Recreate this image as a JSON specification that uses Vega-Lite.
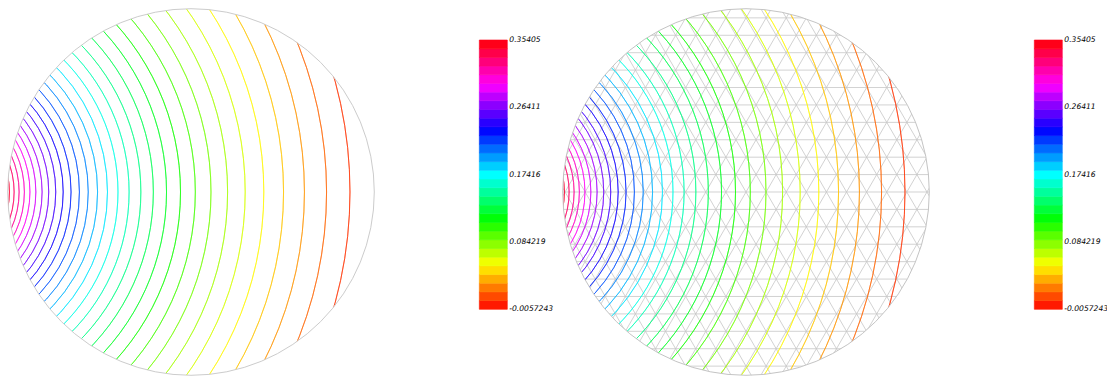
{
  "$schema": "https://vega.github.io/schema/vega-lite/v6.json",
  "padding": 0,
  "spacing": 1,
  "background": "white",
  "config": {"view": {"stroke": null}},
  "datasets": {
    "iso": [
      {"r": 2.2913, "v": 0.00588}, {"r": 2.1635, "v": 0.01749}, {"r": 2.0428, "v": 0.02909},
      {"r": 1.9288, "v": 0.04070}, {"r": 1.8212, "v": 0.05230}, {"r": 1.7196, "v": 0.06391},
      {"r": 1.6236, "v": 0.07552}, {"r": 1.5330, "v": 0.08712}, {"r": 1.4475, "v": 0.09873},
      {"r": 1.3667, "v": 0.11033}, {"r": 1.2904, "v": 0.12194}, {"r": 1.2184, "v": 0.13354},
      {"r": 1.1504, "v": 0.14515}, {"r": 1.0862, "v": 0.15675}, {"r": 1.0256, "v": 0.16836},
      {"r": 0.96834, "v": 0.17997}, {"r": 0.91430, "v": 0.19157}, {"r": 0.86328, "v": 0.20318},
      {"r": 0.81510, "v": 0.21478}, {"r": 0.76962, "v": 0.22639}, {"r": 0.72667, "v": 0.23799},
      {"r": 0.68612, "v": 0.24960}, {"r": 0.64783, "v": 0.26121}, {"r": 0.61168, "v": 0.27281},
      {"r": 0.57755, "v": 0.28442}, {"r": 0.54532, "v": 0.29602}, {"r": 0.51489, "v": 0.30763},
      {"r": 0.48616, "v": 0.31923}, {"r": 0.45903, "v": 0.33084}, {"r": 0.43341, "v": 0.34244}
    ],
    "bands": [
      {"lo": -0.0057243, "hi": 0.0058813, "v": 0.0000785},
      {"lo": 0.0058813, "hi": 0.0174869, "v": 0.0116841},
      {"lo": 0.0174869, "hi": 0.0290926, "v": 0.0232897},
      {"lo": 0.0290926, "hi": 0.0406982, "v": 0.0348954},
      {"lo": 0.0406982, "hi": 0.0523038, "v": 0.0465010},
      {"lo": 0.0523038, "hi": 0.0639094, "v": 0.0581066},
      {"lo": 0.0639094, "hi": 0.0755150, "v": 0.0697122},
      {"lo": 0.0755150, "hi": 0.0871207, "v": 0.0813178},
      {"lo": 0.0871207, "hi": 0.0987263, "v": 0.0929235},
      {"lo": 0.0987263, "hi": 0.1103319, "v": 0.1045291},
      {"lo": 0.1103319, "hi": 0.1219375, "v": 0.1161347},
      {"lo": 0.1219375, "hi": 0.1335431, "v": 0.1277403},
      {"lo": 0.1335431, "hi": 0.1451488, "v": 0.1393459},
      {"lo": 0.1451488, "hi": 0.1567544, "v": 0.1509516},
      {"lo": 0.1567544, "hi": 0.1683600, "v": 0.1625572},
      {"lo": 0.1683600, "hi": 0.1799656, "v": 0.1741628},
      {"lo": 0.1799656, "hi": 0.1915712, "v": 0.1857684},
      {"lo": 0.1915712, "hi": 0.2031769, "v": 0.1973740},
      {"lo": 0.2031769, "hi": 0.2147825, "v": 0.2089797},
      {"lo": 0.2147825, "hi": 0.2263881, "v": 0.2205853},
      {"lo": 0.2263881, "hi": 0.2379937, "v": 0.2321909},
      {"lo": 0.2379937, "hi": 0.2495993, "v": 0.2437965},
      {"lo": 0.2495993, "hi": 0.2612050, "v": 0.2554021},
      {"lo": 0.2612050, "hi": 0.2728106, "v": 0.2670078},
      {"lo": 0.2728106, "hi": 0.2844162, "v": 0.2786134},
      {"lo": 0.2844162, "hi": 0.2960218, "v": 0.2902190},
      {"lo": 0.2960218, "hi": 0.3076274, "v": 0.3018246},
      {"lo": 0.3076274, "hi": 0.3192331, "v": 0.3134302},
      {"lo": 0.3192331, "hi": 0.3308387, "v": 0.3250359},
      {"lo": 0.3308387, "hi": 0.3424443, "v": 0.3366415},
      {"lo": 0.3424443, "hi": 0.35405, "v": 0.3482471}
    ],
    "labels": [
      {"label": "0.35405", "v": 0.35405},
      {"label": "0.26411", "v": 0.26411},
      {"label": "0.17416", "v": 0.17416},
      {"label": "0.084219", "v": 0.084219},
      {"label": "-0.0057243", "v": -0.0057243}
    ],
    "mesh": [
      {"x": -1.1, "y": -0.95, "x2": 1.1, "y2": -0.95},
      {"x": -1.1, "y": -0.855, "x2": 1.1, "y2": -0.855},
      {"x": -1.1, "y": -0.76, "x2": 1.1, "y2": -0.76},
      {"x": -1.1, "y": -0.665, "x2": 1.1, "y2": -0.665},
      {"x": -1.1, "y": -0.57, "x2": 1.1, "y2": -0.57},
      {"x": -1.1, "y": -0.475, "x2": 1.1, "y2": -0.475},
      {"x": -1.1, "y": -0.38, "x2": 1.1, "y2": -0.38},
      {"x": -1.1, "y": -0.285, "x2": 1.1, "y2": -0.285},
      {"x": -1.1, "y": -0.19, "x2": 1.1, "y2": -0.19},
      {"x": -1.1, "y": -0.095, "x2": 1.1, "y2": -0.095},
      {"x": -1.1, "y": 0, "x2": 1.1, "y2": 0},
      {"x": -1.1, "y": 0.095, "x2": 1.1, "y2": 0.095},
      {"x": -1.1, "y": 0.19, "x2": 1.1, "y2": 0.19},
      {"x": -1.1, "y": 0.285, "x2": 1.1, "y2": 0.285},
      {"x": -1.1, "y": 0.38, "x2": 1.1, "y2": 0.38},
      {"x": -1.1, "y": 0.475, "x2": 1.1, "y2": 0.475},
      {"x": -1.1, "y": 0.57, "x2": 1.1, "y2": 0.57},
      {"x": -1.1, "y": 0.665, "x2": 1.1, "y2": 0.665},
      {"x": -1.1, "y": 0.76, "x2": 1.1, "y2": 0.76},
      {"x": -1.1, "y": 0.855, "x2": 1.1, "y2": 0.855},
      {"x": -1.1, "y": 0.95, "x2": 1.1, "y2": 0.95},
      {"x": 0.27273, "y": -1.42763, "x2": 1.37273, "y2": 0.47763},
      {"x": 0.19046, "y": -1.38013, "x2": 1.29046, "y2": 0.52513},
      {"x": 0.10818, "y": -1.33263, "x2": 1.20818, "y2": 0.57263},
      {"x": 0.02591, "y": -1.28513, "x2": 1.12591, "y2": 0.62013},
      {"x": -0.05636, "y": -1.23763, "x2": 1.04364, "y2": 0.66763},
      {"x": -0.13864, "y": -1.19013, "x2": 0.96136, "y2": 0.71513},
      {"x": -0.22091, "y": -1.14263, "x2": 0.87909, "y2": 0.76263},
      {"x": -0.30318, "y": -1.09513, "x2": 0.79682, "y2": 0.81013},
      {"x": -0.38545, "y": -1.04763, "x2": 0.71455, "y2": 0.85763},
      {"x": -0.46773, "y": -1.00013, "x2": 0.63227, "y2": 0.90513},
      {"x": -0.55, "y": -0.95263, "x2": 0.55, "y2": 0.95263},
      {"x": -0.63227, "y": -0.90513, "x2": 0.46773, "y2": 1.00013},
      {"x": -0.71455, "y": -0.85763, "x2": 0.38545, "y2": 1.04763},
      {"x": -0.79682, "y": -0.81013, "x2": 0.30318, "y2": 1.09513},
      {"x": -0.87909, "y": -0.76263, "x2": 0.22091, "y2": 1.14263},
      {"x": -0.96136, "y": -0.71513, "x2": 0.13864, "y2": 1.19013},
      {"x": -1.04364, "y": -0.66763, "x2": 0.05636, "y2": 1.23763},
      {"x": -1.12591, "y": -0.62013, "x2": -0.02591, "y2": 1.28513},
      {"x": -1.20818, "y": -0.57263, "x2": -0.10818, "y2": 1.33263},
      {"x": -1.29046, "y": -0.52513, "x2": -0.19046, "y2": 1.38013},
      {"x": -1.37273, "y": -0.47763, "x2": -0.27273, "y2": 1.42763},
      {"x": -0.27273, "y": -1.42763, "x2": -1.37273, "y2": 0.47763},
      {"x": -0.19046, "y": -1.38013, "x2": -1.29046, "y2": 0.52513},
      {"x": -0.10818, "y": -1.33263, "x2": -1.20818, "y2": 0.57263},
      {"x": -0.02591, "y": -1.28513, "x2": -1.12591, "y2": 0.62013},
      {"x": 0.05636, "y": -1.23763, "x2": -1.04364, "y2": 0.66763},
      {"x": 0.13864, "y": -1.19013, "x2": -0.96136, "y2": 0.71513},
      {"x": 0.22091, "y": -1.14263, "x2": -0.87909, "y2": 0.76263},
      {"x": 0.30318, "y": -1.09513, "x2": -0.79682, "y2": 0.81013},
      {"x": 0.38545, "y": -1.04763, "x2": -0.71455, "y2": 0.85763},
      {"x": 0.46773, "y": -1.00013, "x2": -0.63227, "y2": 0.90513},
      {"x": 0.55, "y": -0.95263, "x2": -0.55, "y2": 0.95263},
      {"x": 0.63227, "y": -0.90513, "x2": -0.46773, "y2": 1.00013},
      {"x": 0.71455, "y": -0.85763, "x2": -0.38545, "y2": 1.04763},
      {"x": 0.79682, "y": -0.81013, "x2": -0.30318, "y2": 1.09513},
      {"x": 0.87909, "y": -0.76263, "x2": -0.22091, "y2": 1.14263},
      {"x": 0.96136, "y": -0.71513, "x2": -0.13864, "y2": 1.19013},
      {"x": 1.04364, "y": -0.66763, "x2": -0.05636, "y2": 1.23763},
      {"x": 1.12591, "y": -0.62013, "x2": 0.02591, "y2": 1.28513},
      {"x": 1.20818, "y": -0.57263, "x2": 0.10818, "y2": 1.33263},
      {"x": 1.29046, "y": -0.52513, "x2": 0.19046, "y2": 1.38013},
      {"x": 1.37273, "y": -0.47763, "x2": 0.27273, "y2": 1.42763}
    ]
  },
  "hconcat": [
    {
      "width": 553,
      "height": 376,
      "resolve": {"scale": {"y": "independent"}},
      "layer": [
        {
          "data": {"name": "iso"},
          "mark": {"type": "arc", "filled": false, "strokeWidth": 0.75, "strokeOpacity": 0.85, "theta": 0.7208, "theta2": 2.4208, "clip": true},
          "encoding": {
            "x": {"datum": -1.4239, "type": "quantitative", "scale": {"domain": [-1.04201, 1.9749], "nice": false, "zero": false}, "axis": null},
            "y": {"datum": 0, "type": "quantitative", "scale": {"domain": [-1.00382, 1.04746], "nice": false, "zero": false}, "axis": null},
            "radius": {"field": "r", "type": "quantitative", "scale": {"type": "linear", "domain": [0, 1], "range": [0, 183.3], "nice": false, "zero": true}},
            "radius2": {"field": "r"},
            "color": {"field": "v", "type": "quantitative", "legend": null, "scale": {"domain": [-0.0057243, 0.0542381, 0.1142005, 0.1741629, 0.2341253, 0.2940877, 0.35405], "range": ["#ff0000", "#ffff00", "#00ff00", "#00ffff", "#0000ff", "#ff00ff", "#ff0000"], "interpolate": "rgb"}}
          }
        },
        {
          "data": {"values": [{}]},
          "mark": {"type": "arc", "fill": "white", "stroke": "#cccccc", "strokeWidth": 1, "theta": 0, "theta2": 6.2832, "clip": true},
          "encoding": {
            "x": {"datum": 0, "type": "quantitative", "scale": {"domain": [-1.04201, 1.9749], "nice": false, "zero": false}, "axis": null},
            "y": {"datum": 0, "type": "quantitative", "scale": {"domain": [-1.00382, 1.04746], "nice": false, "zero": false}, "axis": null},
            "radius": {"datum": 1, "type": "quantitative", "scale": {"type": "linear", "domain": [0, 1], "range": [0, 183.3], "nice": false, "zero": true}},
            "radius2": {"datum": 2.7}
          }
        },
        {
          "data": {"name": "bands"},
          "mark": {"type": "rect", "strokeWidth": 0.6},
          "encoding": {
            "x": {"datum": 1.5729, "type": "quantitative", "scale": {"domain": [-1.04201, 1.9749], "nice": false, "zero": false}, "axis": null},
            "x2": {"datum": 1.7256},
            "y": {"field": "lo", "type": "quantitative", "scale": {"domain": [-0.09483, 0.40749], "nice": false, "zero": false}, "axis": null},
            "y2": {"field": "hi"},
            "color": {"field": "v", "type": "quantitative", "legend": null, "scale": {"domain": [-0.0057243, 0.0542381, 0.1142005, 0.1741629, 0.2341253, 0.2940877, 0.35405], "range": ["#ff0000", "#ffff00", "#00ff00", "#00ffff", "#0000ff", "#ff00ff", "#ff0000"], "interpolate": "rgb"}},
            "stroke": {"field": "v", "type": "quantitative", "legend": null, "scale": {"domain": [-0.0057243, 0.0542381, 0.1142005, 0.1741629, 0.2341253, 0.2940877, 0.35405], "range": ["#ff0000", "#ffff00", "#00ff00", "#00ffff", "#0000ff", "#ff00ff", "#ff0000"], "interpolate": "rgb"}}
          }
        },
        {
          "data": {"name": "labels"},
          "mark": {"type": "text", "align": "left", "baseline": "middle", "font": "DejaVu Sans", "fontSize": 7.6, "fontStyle": "italic", "color": "black"},
          "encoding": {
            "x": {"datum": 1.7365, "type": "quantitative", "scale": {"domain": [-1.04201, 1.9749], "nice": false, "zero": false}, "axis": null},
            "y": {"field": "v", "type": "quantitative", "scale": {"domain": [-0.09483, 0.40749], "nice": false, "zero": false}, "axis": null},
            "text": {"field": "label"}
          }
        }
      ]
    },
    {
      "width": 553,
      "height": 376,
      "resolve": {"scale": {"y": "independent"}},
      "layer": [
        {
          "data": {"name": "mesh"},
          "mark": {"type": "rule", "stroke": "#c6c6c6", "strokeWidth": 0.8, "clip": true},
          "encoding": {
            "x": {"field": "x", "type": "quantitative", "scale": {"domain": [-1.04201, 1.9749], "nice": false, "zero": false}, "axis": null},
            "y": {"field": "y", "type": "quantitative", "scale": {"domain": [-1.00382, 1.04746], "nice": false, "zero": false}, "axis": null},
            "x2": {"field": "x2"},
            "y2": {"field": "y2"}
          }
        },
        {
          "data": {"name": "iso"},
          "mark": {"type": "arc", "filled": false, "strokeWidth": 0.75, "strokeOpacity": 0.85, "theta": 0.7208, "theta2": 2.4208, "clip": true},
          "encoding": {
            "x": {"datum": -1.4239, "type": "quantitative", "scale": {"domain": [-1.04201, 1.9749], "nice": false, "zero": false}, "axis": null},
            "y": {"datum": 0, "type": "quantitative", "scale": {"domain": [-1.00382, 1.04746], "nice": false, "zero": false}, "axis": null},
            "radius": {"field": "r", "type": "quantitative", "scale": {"type": "linear", "domain": [0, 1], "range": [0, 183.3], "nice": false, "zero": true}},
            "radius2": {"field": "r"},
            "color": {"field": "v", "type": "quantitative", "legend": null, "scale": {"domain": [-0.0057243, 0.0542381, 0.1142005, 0.1741629, 0.2341253, 0.2940877, 0.35405], "range": ["#ff0000", "#ffff00", "#00ff00", "#00ffff", "#0000ff", "#ff00ff", "#ff0000"], "interpolate": "rgb"}}
          }
        },
        {
          "data": {"values": [{}]},
          "mark": {"type": "arc", "fill": "white", "stroke": "#c4c4c4", "strokeWidth": 1, "theta": 0, "theta2": 6.2832, "clip": true},
          "encoding": {
            "x": {"datum": 0, "type": "quantitative", "scale": {"domain": [-1.04201, 1.9749], "nice": false, "zero": false}, "axis": null},
            "y": {"datum": 0, "type": "quantitative", "scale": {"domain": [-1.00382, 1.04746], "nice": false, "zero": false}, "axis": null},
            "radius": {"datum": 1, "type": "quantitative", "scale": {"type": "linear", "domain": [0, 1], "range": [0, 183.3], "nice": false, "zero": true}},
            "radius2": {"datum": 2.7}
          }
        },
        {
          "data": {"name": "bands"},
          "mark": {"type": "rect", "strokeWidth": 0.6},
          "encoding": {
            "x": {"datum": 1.5729, "type": "quantitative", "scale": {"domain": [-1.04201, 1.9749], "nice": false, "zero": false}, "axis": null},
            "x2": {"datum": 1.7256},
            "y": {"field": "lo", "type": "quantitative", "scale": {"domain": [-0.09483, 0.40749], "nice": false, "zero": false}, "axis": null},
            "y2": {"field": "hi"},
            "color": {"field": "v", "type": "quantitative", "legend": null, "scale": {"domain": [-0.0057243, 0.0542381, 0.1142005, 0.1741629, 0.2341253, 0.2940877, 0.35405], "range": ["#ff0000", "#ffff00", "#00ff00", "#00ffff", "#0000ff", "#ff00ff", "#ff0000"], "interpolate": "rgb"}},
            "stroke": {"field": "v", "type": "quantitative", "legend": null, "scale": {"domain": [-0.0057243, 0.0542381, 0.1142005, 0.1741629, 0.2341253, 0.2940877, 0.35405], "range": ["#ff0000", "#ffff00", "#00ff00", "#00ffff", "#0000ff", "#ff00ff", "#ff0000"], "interpolate": "rgb"}}
          }
        },
        {
          "data": {"name": "labels"},
          "mark": {"type": "text", "align": "left", "baseline": "middle", "font": "DejaVu Sans", "fontSize": 7.6, "fontStyle": "italic", "color": "black"},
          "encoding": {
            "x": {"datum": 1.7365, "type": "quantitative", "scale": {"domain": [-1.04201, 1.9749], "nice": false, "zero": false}, "axis": null},
            "y": {"field": "v", "type": "quantitative", "scale": {"domain": [-0.09483, 0.40749], "nice": false, "zero": false}, "axis": null},
            "text": {"field": "label"}
          }
        }
      ]
    }
  ]
}
